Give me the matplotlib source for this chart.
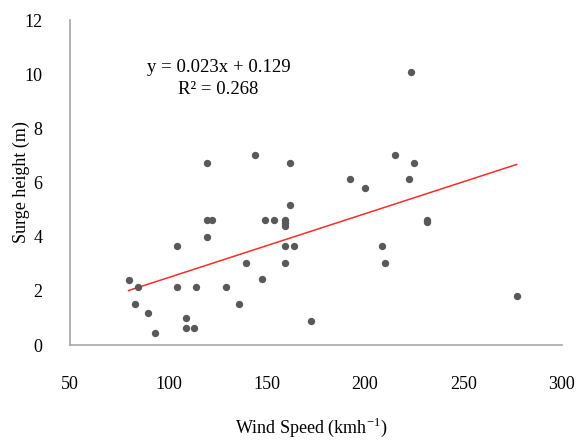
import matplotlib
matplotlib.use('Agg')
import matplotlib.pyplot as plt
import numpy as np

plt.rcParams['font.family'] = ['Liberation Serif', 'DejaVu Serif']

# Wind speed (km/h) and surge height (m)
wind = [79.8, 84.5, 83.2, 89.5, 93.0, 104.4, 104.4, 114.1, 109.2, 109.2,
        113.0, 119.4, 119.4, 122.3, 119.4, 144.2, 161.9, 149.3, 153.7, 159.2,
        159.2, 159.2, 161.9, 159.2, 163.9, 139.3, 159.2, 147.8, 129.4, 135.9,
        172.4, 223.5, 215.0, 224.8, 192.5, 200.0, 222.3, 231.6, 231.6, 208.7,
        209.9, 277.0]
surge = [2.40, 2.13, 1.51, 1.19, 0.43, 3.66, 2.13, 2.13, 1.00, 0.64,
         0.64, 6.73, 4.62, 4.62, 4.00, 7.02, 6.73, 4.62, 4.62, 4.62,
         4.50, 4.41, 5.16, 3.66, 3.66, 3.04, 3.04, 2.42, 2.13, 1.51,
         0.90, 10.09, 7.02, 6.73, 6.12, 5.79, 6.12, 4.62, 4.55, 3.64,
         3.03, 1.81]

slope = 0.0236
intercept = 0.129
eq_text = 'y = 0.023x + 0.129'
r2_text = 'R² = 0.268'

fig = plt.figure(figsize=(5.8, 4.4), dpi=100)
ax = fig.add_axes([0.1207, 0.2159, 0.848, 0.7386])

ax.scatter(wind, surge, s=28, color='#595959', zorder=3, linewidths=0)

xl = np.array([min(wind), max(wind)])
ax.plot(xl, slope * xl + intercept, color='#ff2a2a', linewidth=1.1, zorder=2)

ax.text(125.5, 10.23, eq_text, ha='center', va='center', fontsize=13.5)
ax.text(125.5, 9.42, r2_text, ha='center', va='center', fontsize=13.5)

ax.set_xlim(50, 300)
ax.set_ylim(0, 12)
ax.set_xticks([50, 100, 150, 200, 250, 300])
ax.set_yticks([0, 2, 4, 6, 8, 10, 12])
ax.tick_params(length=0, labelsize=13)
ax.tick_params(axis='x', pad=22)
ax.tick_params(axis='y', pad=20)

for s in ['top', 'right']:
    ax.spines[s].set_visible(False)
for s in ['left', 'bottom']:
    ax.spines[s].set_color('#a6a6a6')
    ax.spines[s].set_linewidth(1.2)

ax.set_xlabel('Wind Speed (kmh$^{\\mathregular{-1}}$)', fontsize=13)
ax.set_ylabel('Surge height (m)', fontsize=13)
ax.xaxis.set_label_coords(0.49, -0.255)
ax.yaxis.set_label_coords(-0.098, 0.5)
ax.xaxis.label.set_va('center')
ax.yaxis.label.set_va('center')

fig.savefig('out.png', dpi=100)
